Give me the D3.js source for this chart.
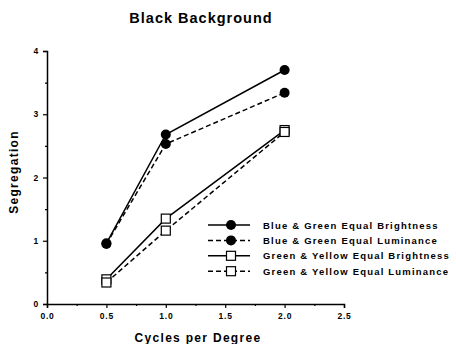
<!DOCTYPE html>
<html>
<head>
<meta charset="utf-8">
<script src="https://cdn.jsdelivr.net/npm/d3@7"></script>
<style>
  body { margin: 0; background: #fff; }
  text { font-family: "Liberation Sans", Arial, sans-serif; font-weight: bold; fill: #000; }
</style>
</head>
<body>
<div id="chart"></div>
<script>
const cycles = [0.5, 1.0, 2.0];
const blueGreenBright = [0.96, 2.68, 3.70];
const blueGreenLum = [0.95, 2.53, 3.34];
const greenYellowBright = [0.39, 1.35, 2.75];
const greenYellowLum = [0.34, 1.16, 2.72];
const xTicks = [0, 0.5, 1, 1.5, 2, 2.5];
const yTicks = [0, 1, 2, 3, 4];

const series = [
  { name: "Blue & Green Equal Brightness", values: blueGreenBright, dash: null, marker: "circle" },
  { name: "Blue & Green Equal Luminance", values: blueGreenLum, dash: "5,3", marker: "circle" },
  { name: "Green & Yellow Equal Brightness", values: greenYellowBright, dash: null, marker: "square" },
  { name: "Green & Yellow Equal Luminance", values: greenYellowLum, dash: "5,3", marker: "square" }
];

const W = 456, H = 344;
const margin = { left: 47, right: 112, top: 51, bottom: 40 };

const svg = d3.select("#chart").append("svg")
    .attr("width", W)
    .attr("height", H);

const x = d3.scaleLinear().domain([0, 2.5]).range([margin.left, W - margin.right]);
const y = d3.scaleLinear().domain([0, 4]).range([H - margin.bottom, margin.top]);

// title
svg.append("text")
    .attr("x", 201).attr("y", 23)
    .attr("text-anchor", "middle")
    .style("font-size", "14.5px")
    .style("letter-spacing", "1px")
    .text("Black Background");

// axes
svg.append("g")
    .attr("transform", `translate(0,${y(0)})`)
    .call(d3.axisBottom(x).tickValues(xTicks).tickFormat(d3.format(".1f")).tickSize(4).tickPadding(5));
svg.append("g")
    .attr("transform", `translate(0,${y(0)})`)
    .call(d3.axisBottom(x).tickValues(d3.range(0.25, 2.5, 0.5)).tickFormat("").tickSize(2))
    .select(".domain").remove();

svg.append("g")
    .attr("transform", `translate(${x(0)},0)`)
    .call(d3.axisLeft(y).tickValues(yTicks).tickFormat(d3.format("d")).tickSize(4).tickPadding(4));
svg.append("g")
    .attr("transform", `translate(${x(0)},0)`)
    .call(d3.axisLeft(y).tickValues(d3.range(0.5, 4, 1)).tickFormat("").tickSize(2))
    .select(".domain").remove();

svg.selectAll(".domain").attr("stroke-width", 1.5);
svg.selectAll(".tick line").attr("stroke-width", 1.2);
svg.selectAll(".tick text")
    .style("font-size", "8.5px")
    .style("letter-spacing", "0.8px")
    .style("font-family", "'Liberation Sans', Arial, sans-serif")
    .style("font-weight", "bold");

// axis labels
svg.append("text")
    .attr("x", 198).attr("y", 342)
    .attr("text-anchor", "middle")
    .style("font-size", "12px")
    .style("letter-spacing", "1.3px")
    .text("Cycles per Degree");
svg.append("text")
    .attr("transform", `translate(18,172) rotate(-90)`)
    .attr("text-anchor", "middle")
    .style("font-size", "12px")
    .style("letter-spacing", "1.3px")
    .text("Segregation");

const line = d3.line().x((d, i) => x(cycles[i])).y(d => y(d));

function drawMarker(g, type, cx, cy, r) {
  if (type === "circle") {
    g.append("circle").attr("cx", cx).attr("cy", cy).attr("r", r).attr("fill", "#000");
  } else {
    g.append("rect").attr("x", cx - r).attr("y", cy - r).attr("width", 2 * r).attr("height", 2 * r)
        .attr("fill", "#fff").attr("stroke", "#000").attr("stroke-width", 1.2);
  }
}

series.forEach(s => {
  svg.append("path")
      .datum(s.values)
      .attr("d", line)
      .attr("fill", "none")
      .attr("stroke", "#000")
      .attr("stroke-width", 1.5)
      .attr("stroke-dasharray", s.dash);
  const g = svg.append("g");
  s.values.forEach((v, i) => drawMarker(g, s.marker, x(cycles[i]), y(v), s.marker === "circle" ? 5 : 4.5));
});

// legend
const legend = svg.append("g").attr("transform", "translate(208,225)");
series.forEach((s, i) => {
  const row = legend.append("g").attr("transform", `translate(0,${i * 15.4})`);
  row.append("line")
      .attr("x1", 0).attr("x2", 42).attr("y1", 0).attr("y2", 0)
      .attr("stroke", "#000").attr("stroke-width", 1.5)
      .attr("stroke-dasharray", s.dash);
  drawMarker(row, s.marker, 23, 0, s.marker === "circle" ? 5 : 4.5);
  row.append("text")
      .attr("x", 55).attr("y", 3.5)
      .style("font-size", "9.5px")
      .style("letter-spacing", "1.2px")
      .text(s.name);
});
</script>
</body>
</html>
